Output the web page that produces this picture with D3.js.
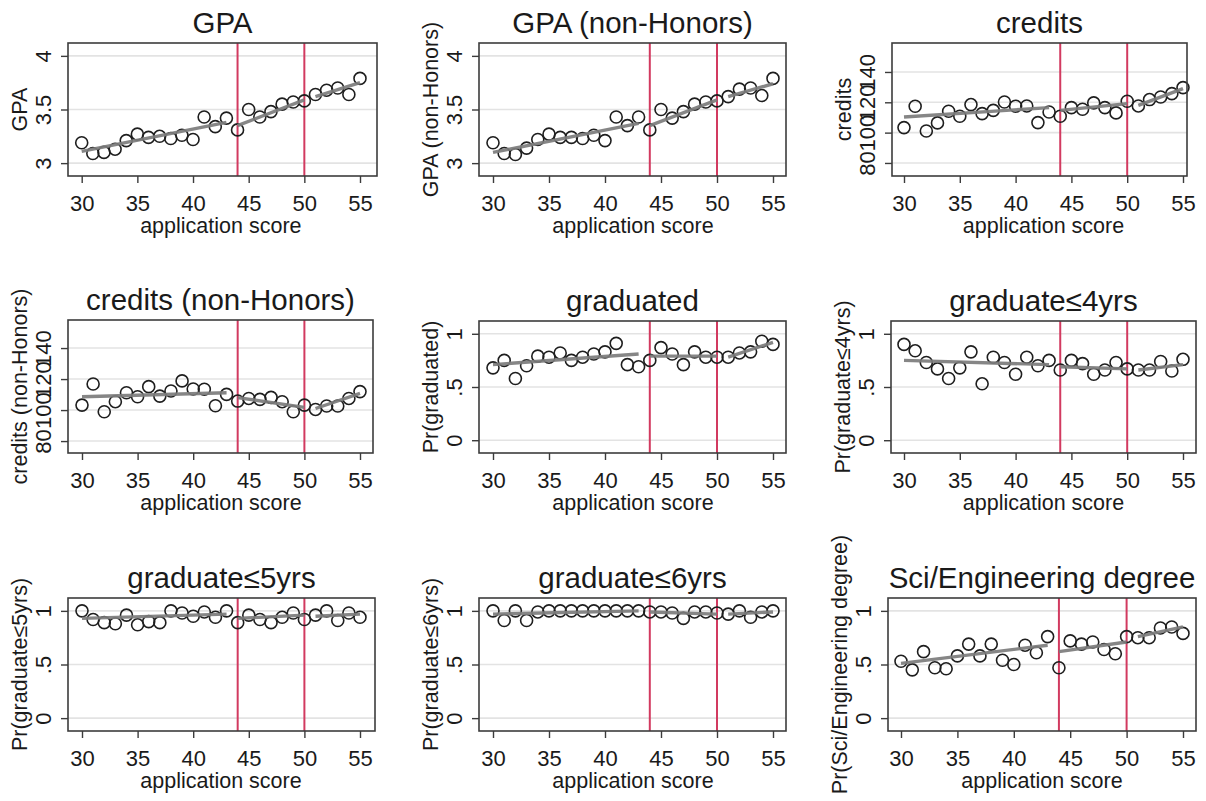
<!DOCTYPE html>
<html>
<head>
<meta charset="utf-8">
<script src="https://cdn.jsdelivr.net/npm/d3@7"></script>
<style>
  html, body { margin: 0; padding: 0; background: #ffffff; }
  svg { display: block; }
  text { font-family: "Liberation Sans", Arial, sans-serif; fill: #1a1a1a; }
</style>
</head>
<body>
<svg id="chart" width="1206" height="801"></svg>
<script>
// ---------------- DATA ----------------
const scores = [30,31,32,33,34,35,36,37,38,39,40,41,42,43,44,45,46,47,48,49,50,51,52,53,54,55];
const xTicks = [30, 35, 40, 45, 50, 55];
const cutoffs = [44, 50];
const fitSegments = [[30, 43], [44, 50], [51, 55]];

const gpaTicks = [3, 3.5, 4];
const gpaTickLabels = ["3", "3.5", "4"];
const creditTicks = [80, 100, 120, 140];
const creditTickLabels = ["80", "100", "120", "140"];
const probTicks = [0, 0.5, 1];
const probTickLabels = ["0", ".5", "1"];

const titles = ["GPA", "GPA (non-Honors)", "credits", "credits (non-Honors)", "graduated",
  "graduate\u22644yrs", "graduate\u22645yrs", "graduate\u22646yrs", "Sci/Engineering degree"];
const yLabels = ["GPA", "GPA (non-Honors)", "credits", "credits (non-Honors)", "Pr(graduated)",
  "Pr(graduate\u22644yrs)", "Pr(graduate\u22645yrs)", "Pr(graduate\u22646yrs)", "Pr(Sci/Engineering degree)"];

const gpa = [3.19,3.09,3.10,3.13,3.21,3.27,3.24,3.25,3.23,3.26,3.22,3.43,3.34,3.42,3.31,3.50,3.43,3.48,3.55,3.57,3.58,3.64,3.68,3.70,3.64,3.79];
const gpaFit = [[3.11, 3.38], [3.35, 3.59], [3.62, 3.75]];

const gpaNonHonors = [3.19,3.09,3.08,3.14,3.22,3.27,3.24,3.24,3.23,3.26,3.21,3.43,3.35,3.43,3.31,3.50,3.42,3.48,3.55,3.57,3.58,3.62,3.69,3.70,3.63,3.79];
const gpaNonHonorsFit = [[3.10, 3.37], [3.35, 3.59], [3.62, 3.74]];

const credits = [103.3,117.4,101.1,106.4,114.1,110.8,118.5,112.5,114.7,120.2,117.4,117.6,106.6,113.6,110.8,116.5,115.4,119.6,116.5,113.0,120.7,117.6,121.8,123.5,125.7,129.7];
const creditsFit = [[110.3, 116.5], [114.7, 119.1], [118.0, 129.0]];

const creditsNonHonors = [103.2,116.8,98.9,105.4,111.2,108.6,115.1,109.0,112.3,118.8,113.6,113.4,102.8,110.1,105.8,107.5,106.9,108.2,105.4,98.9,103.2,100.4,102.6,102.6,107.5,111.9];
const creditsNonHonorsFit = [[108.6, 111.2], [108.0, 101.7], [101.0, 110.8]];

const graduated = [0.68,0.75,0.58,0.70,0.79,0.78,0.82,0.75,0.78,0.81,0.83,0.91,0.71,0.69,0.75,0.87,0.81,0.71,0.83,0.78,0.78,0.78,0.82,0.83,0.93,0.90];
const graduatedFit = [[0.71, 0.81], [0.79, 0.79], [0.78, 0.92]];

const grad4 = [0.90,0.84,0.73,0.67,0.58,0.68,0.83,0.53,0.78,0.73,0.62,0.78,0.70,0.75,0.66,0.75,0.72,0.62,0.66,0.73,0.67,0.66,0.66,0.74,0.65,0.76];
const grad4Fit = [[0.75, 0.71], [0.69, 0.67], [0.66, 0.71]];

const grad5 = [1.00,0.92,0.89,0.88,0.96,0.87,0.90,0.89,1.00,0.98,0.95,0.99,0.94,1.00,0.89,0.96,0.92,0.89,0.94,0.98,0.92,0.96,1.00,0.91,0.98,0.94];
const grad5Fit = [[0.93, 0.97], [0.93, 0.96], [0.95, 0.97]];

const grad6 = [1.00,0.91,1.00,0.91,0.99,1.00,1.00,1.00,1.00,1.00,1.00,1.00,1.00,1.00,0.99,0.99,0.98,0.93,0.99,0.99,0.98,0.97,1.00,0.94,0.99,1.00];
const grad6Fit = [[0.97, 1.00], [0.99, 0.97], [0.97, 0.99]];

const sciEng = [0.53,0.45,0.62,0.47,0.46,0.58,0.69,0.58,0.69,0.54,0.50,0.68,0.61,0.76,0.47,0.72,0.69,0.71,0.64,0.60,0.76,0.75,0.75,0.84,0.85,0.79];
const sciEngFit = [[0.51, 0.68], [0.62, 0.71], [0.76, 0.85]];

// ---------------- LAYOUT ----------------
// frame: [left, top, right, bottom]; xr: pixel positions of score 30 and 55
const panels = [
  { values: gpa, fit: gpaFit, ticks: gpaTicks, tl: gpaTickLabels, ydom: [2.88, 4.12], frame: [68, 43, 377, 176], xr: [81.7, 360] },
  { values: gpaNonHonors, fit: gpaNonHonorsFit, ticks: gpaTicks, tl: gpaTickLabels, ydom: [2.88, 4.12], frame: [479, 43, 786, 176], xr: [493, 773] },
  { values: credits, fit: creditsFit, ticks: creditTicks, tl: creditTickLabels, ydom: [71.4, 159.1], frame: [892, 43, 1187, 176], xr: [904, 1183] },
  { values: creditsNonHonors, fit: creditsNonHonorsFit, ticks: creditTicks, tl: creditTickLabels, ydom: [72.3, 158.1], frame: [68, 320, 373, 453], xr: [82, 360] },
  { values: graduated, fit: graduatedFit, ticks: probTicks, tl: probTickLabels, ydom: [-0.12, 1.12], frame: [479, 321, 786, 453], xr: [493, 773] },
  { values: grad4, fit: grad4Fit, ticks: probTicks, tl: probTickLabels, ydom: [-0.12, 1.12], frame: [891, 321, 1196, 453], xr: [904, 1183] },
  { values: grad5, fit: grad5Fit, ticks: probTicks, tl: probTickLabels, ydom: [-0.12, 1.12], frame: [68, 598, 375, 731], xr: [82, 360] },
  { values: grad6, fit: grad6Fit, ticks: probTicks, tl: probTickLabels, ydom: [-0.12, 1.12], frame: [479, 598, 786, 731], xr: [493, 773] },
  { values: sciEng, fit: sciEngFit, ticks: probTicks, tl: probTickLabels, ydom: [-0.12, 1.12], frame: [888, 598, 1196, 731], xr: [901, 1183] }
];

const svg = d3.select("#chart");

const TITLE_SIZE = 29.5;
const LABEL_SIZE = 21.5;
const TICK_SIZE = 22;

panels.forEach((p, i) => {
  const [L, T, R, B] = p.frame;
  const x = d3.scaleLinear().domain([30, 55]).range(p.xr);
  const y = d3.scaleLinear().domain(p.ydom).range([B, T]);
  const g = svg.append("g");

  // gridlines
  g.selectAll("line.grid").data(p.ticks).enter().append("line")
    .attr("x1", L).attr("x2", R)
    .attr("y1", d => y(d)).attr("y2", d => y(d))
    .attr("stroke", "#e3e3e3").attr("stroke-width", 1.6);

  // cutoff lines
  g.selectAll("line.cut").data(cutoffs).enter().append("line")
    .attr("x1", d => x(d)).attr("x2", d => x(d))
    .attr("y1", T).attr("y2", B)
    .attr("stroke", "#d23a60").attr("stroke-width", 2);

  // points
  g.selectAll("circle").data(scores).enter().append("circle")
    .attr("cx", d => x(d))
    .attr("cy", (d, j) => y(p.values[j]))
    .attr("r", 6)
    .attr("fill", "none")
    .attr("stroke", "#1e1e1e")
    .attr("stroke-width", 1.6);

  // fit segments
  const line = d3.line().x(d => x(d[0])).y(d => y(d[1]));
  fitSegments.forEach((s, k) => {
    g.append("path")
      .attr("d", line([[s[0], p.fit[k][0]], [s[1], p.fit[k][1]]]))
      .attr("fill", "none")
      .attr("stroke", "#7c7c7c")
      .attr("stroke-opacity", 0.92)
      .attr("stroke-width", 3.4);
  });

  // frame
  g.append("rect")
    .attr("x", L).attr("y", T).attr("width", R - L).attr("height", B - T)
    .attr("fill", "none").attr("stroke", "#3c3c3c").attr("stroke-width", 1.6);

  // x axis
  const xAxis = d3.axisBottom(x).tickValues(xTicks).tickSize(7).tickPadding(14).tickFormat(d3.format("d"));
  const xg = g.append("g").attr("transform", `translate(0,${B})`).call(xAxis);
  xg.select(".domain").remove();
  xg.selectAll(".tick line").attr("stroke", "#3c3c3c").attr("stroke-width", 1.4);
  xg.selectAll(".tick text")
    .attr("font-size", TICK_SIZE)
    .attr("font-family", "'Liberation Sans', Arial, sans-serif")
    .attr("fill", "#1a1a1a")
    .attr("dy", null)
    .attr("y", 35);

  // y axis
  const yAxis = d3.axisLeft(y).tickValues(p.ticks).tickSize(7).tickFormat((d, k) => p.tl[k]);
  const yg = g.append("g").attr("transform", `translate(${L},0)`).call(yAxis);
  yg.select(".domain").remove();
  yg.selectAll(".tick line").attr("stroke", "#3c3c3c").attr("stroke-width", 1.4);
  yg.selectAll(".tick text")
    .attr("font-size", TICK_SIZE)
    .attr("font-family", "'Liberation Sans', Arial, sans-serif")
    .attr("fill", "#1a1a1a")
    .attr("x", null).attr("dy", null)
    .attr("text-anchor", "middle")
    .attr("transform", "translate(-17,0) rotate(-90)");

  // x label
  g.append("text")
    .attr("x", (p.xr[0] + p.xr[1]) / 2)
    .attr("y", B + 57)
    .attr("text-anchor", "middle")
    .attr("font-size", LABEL_SIZE)
    .text("application score");

  // y label
  g.append("text")
    .attr("transform", `translate(${L - 41},${(T + B) / 2}) rotate(-90)`)
    .attr("text-anchor", "middle")
    .attr("font-size", LABEL_SIZE)
    .text(yLabels[i]);

  // title
  g.append("text")
    .attr("x", (L + R) / 2)
    .attr("y", T - 10)
    .attr("text-anchor", "middle")
    .attr("font-size", TITLE_SIZE)
    .text(titles[i]);
});
</script>
</body>
</html>
